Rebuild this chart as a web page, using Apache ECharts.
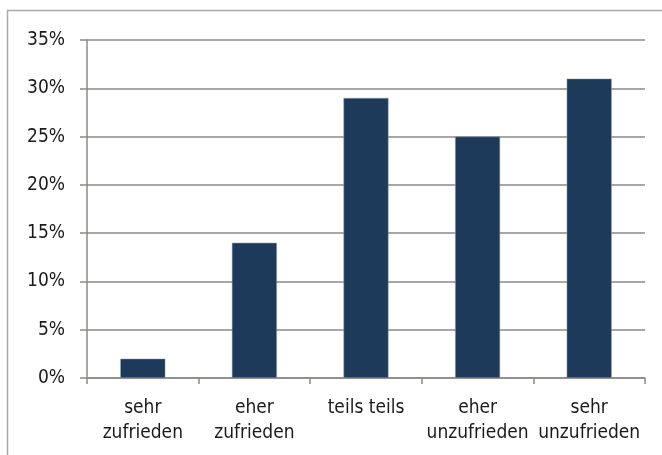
<!DOCTYPE html>
<html><head><meta charset="utf-8">
<script src="https://cdn.jsdelivr.net/npm/echarts@6/dist/echarts.min.js"></script>
<style>html,body{margin:0;padding:0;background:#fff}#c{width:662px;height:455px}</style>
</head><body><div id="c"></div>
<script>
const categories = ['sehr\nzufrieden', 'eher\nzufrieden', 'teils teils', 'eher\nunzufrieden', 'sehr\nunzufrieden'];
const values = [2, 14, 29, 25, 31];
const yTicks = [0, 5, 10, 15, 20, 25, 30, 35];

const FONT = '"DejaVu Sans Condensed", "Liberation Sans Narrow", sans-serif';
const chart = echarts.init(document.getElementById('c'), null, {renderer: 'canvas'});
chart.setOption({
  animation: false,
  graphic: [{
    type: 'rect', z: -1,
    shape: {x: 7.5, y: 10.5, width: 700, height: 500},
    style: {fill: 'none', stroke: '#a9a9a9', lineWidth: 1.5}
  }],
  grid: {left: 87, top: 40, right: 17, bottom: 77, containLabel: false},
  xAxis: {
    type: 'category', data: categories,
    axisLine: {lineStyle: {color: '#8a8a85', width: 1.5}},
    axisTick: {show: true, length: 6, lineStyle: {color: '#8a8a85', width: 1.5}},
    axisLabel: {color: '#1a1a1a', fontFamily: FONT, fontSize: 19, lineHeight: 25, margin: 18, interval: 0}
  },
  yAxis: {
    type: 'value', min: yTicks[0], max: yTicks[yTicks.length - 1], interval: 5,
    axisLine: {show: true, lineStyle: {color: '#8a8a85', width: 1.5}},
    axisTick: {show: true, length: 7, lineStyle: {color: '#8a8a85', width: 1.5}},
    splitLine: {lineStyle: {color: '#8a8a85', width: 1.5}},
    axisLabel: {color: '#1a1a1a', fontFamily: FONT, fontSize: 19, margin: 22, formatter: v => v + '%'}
  },
  series: [{
    type: 'bar', data: values, barWidth: 45,
    itemStyle: {color: '#1e3a5a', borderColor: '#8fa3b8', borderWidth: 0.5}
  }]
});
</script></body></html>
